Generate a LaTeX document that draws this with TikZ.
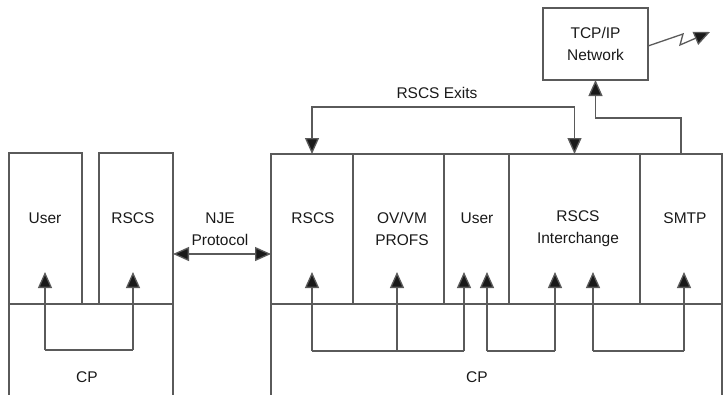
\documentclass[tikz,border=0pt]{standalone}
\usepackage{fontspec}
\setmainfont{Liberation Sans}
\usetikzlibrary{arrows.meta}
\definecolor{linegray}{RGB}{90,90,90}
\tikzset{
  box/.style={draw=linegray, line width=1.2pt, inner sep=0pt, outer sep=0pt, anchor=north west},
  lbl/.style={font=\fontsize{15.5}{22}\selectfont, align=center, text=black!90, inner sep=0pt},
  flow/.style={draw=linegray, line width=1.3pt, ->},
}
\begin{document}
\begin{tikzpicture}[x=1pt,y=-1pt,>={Triangle[length=16pt,width=14pt,fill=black!90]}]
    \useasboundingbox (0,0) rectangle (723,394);
    % left host
    \node[box, minimum width=73pt, minimum height=151pt] (userA) at (9,153) {};
    \node[box, minimum width=74pt, minimum height=151pt] (rscsA) at (99,153) {};
    \node[box, minimum width=164pt, minimum height=94pt] (cpA) at (9,304) {};
    \node[lbl] (userAtxt) at (45,218) {User};
    \node[lbl] (rscsAtxt) at (133,218) {RSCS};
    \node[lbl] (cpAtxt) at (87,377) {CP};
    % right host
    \node[box, minimum width=451pt, minimum height=94pt] (cpB) at (271,304) {};
    \node[box, minimum width=82pt, minimum height=150pt] (rscsB) at (271,154) {};
    \node[box, minimum width=91pt, minimum height=150pt] (profsB) at (353,154) {};
    \node[box, minimum width=65pt, minimum height=150pt] (userB) at (444,154) {};
    \node[box, minimum width=131pt, minimum height=150pt] (ichgB) at (509,154) {};
    \node[box, minimum width=82pt, minimum height=150pt] (smtpB) at (640,154) {};
    \node[lbl] (rscsBtxt) at (313,218) {RSCS};
    \node[lbl] (profsBtxt) at (402,229) {OV/VM\\PROFS};
    \node[lbl] (userBtxt) at (477,218) {User};
    \node[lbl] (ichgBtxt) at (578,229) {RSCS\\Interchange};
    \node[lbl] (smtpBtxt) at (685,218) {SMTP};
    \node[lbl] (cpBtxt) at (477,377) {CP};
    % network
    \node[box, minimum width=105pt, minimum height=72pt] (tcp) at (543,8) {};
    \node[lbl] (tcptxt) at (tcp.center) {TCP/IP\\Network};
    \node[lbl] (exitstxt) at (437,93) {RSCS Exits};
    \node[lbl] (njetxt) at (220,229) {NJE\\Protocol};

    % CP paths up into the virtual machines
    \foreach \n/\x/\y in {a/45/350,b/133/350,c/312/351,d/397/351,e/464/351,f/487/351,g/555/351,h/593/351,i/684/351}{
        \coordinate (foot\n) at (\x,\y);
        \coordinate (tip\n) at (\x,272);
        \draw[flow] (foot\n) -- (tip\n);
    }
    \draw[flow,-] (foota) -- (footb);
    \draw[flow,-] (footc) -- (foote);
    \draw[flow,-] (footf) -- (footg);
    \draw[flow,-] (footh) -- (footi);

    \coordinate (njeline) at (0,254);
    \draw[flow,<->] (rscsA.east |- njeline) -- (rscsB.west |- njeline);
    \draw[flow,<->] (rscsB.north) -- ++(0,-47) -| (ichgB.north);
    \coordinate (smtpup) at (0,118);
    \draw[flow] (smtpB.north) -- (smtpB.north |- smtpup) -| (tcp.south);
    \draw[flow] ([yshift=-2pt]tcp.east) -- (683,34) -- (680,45) -- (710,32);
\end{tikzpicture}
\end{document}
